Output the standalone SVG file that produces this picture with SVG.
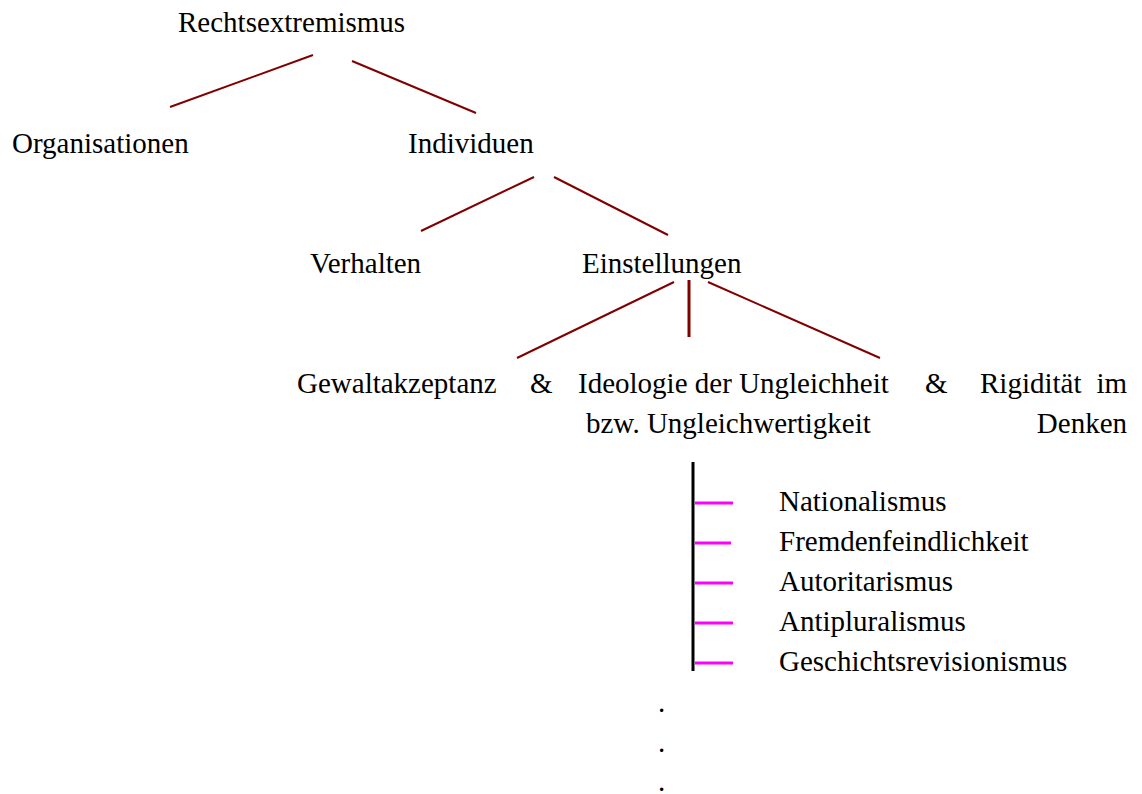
<svg xmlns="http://www.w3.org/2000/svg" width="1142" height="794" viewBox="0 0 1142 794">
<style>
text{font-family:"Liberation Serif","Times New Roman",serif;font-size:29px;fill:#000}
.c{stroke:#800000;stroke-width:2;fill:none}
.cv{stroke:#800000;stroke-width:3;fill:none}
.t{stroke:#ff00ff;stroke-width:3}
</style>
<rect width="1142" height="794" fill="#fff"/>
<g id="connectors">
<line class="c" x1="313" y1="55" x2="170" y2="107"/>
<line class="c" x1="352" y1="61" x2="476" y2="113"/>
<line class="c" x1="534" y1="177" x2="421" y2="231"/>
<line class="c" x1="554" y1="177" x2="668" y2="235"/>
<line class="c" x1="674" y1="282" x2="517" y2="358"/>
<line class="cv" x1="689" y1="280" x2="689" y2="337"/>
<line class="c" x1="708" y1="282" x2="880" y2="358"/>
<line stroke="#000" stroke-width="3" x1="693" y1="462" x2="693" y2="671"/>
<line class="t" x1="695" y1="503" x2="733" y2="503"/>
<line class="t" x1="695" y1="543" x2="731" y2="543"/>
<line class="t" x1="695" y1="583" x2="733" y2="583"/>
<line class="t" x1="695" y1="623" x2="733" y2="623"/>
<line class="t" x1="695" y1="663" x2="733" y2="663"/>
</g>
<g id="n-rechtsextremismus"><text x="178" y="32">Rechtsextremismus</text></g>
<g id="n-organisationen"><text x="12" y="153">Organisationen</text></g>
<g id="n-individuen"><text x="408" y="153">Individuen</text></g>
<g id="n-verhalten"><text x="310" y="273">Verhalten</text></g>
<g id="n-einstellungen"><text x="582" y="273">Einstellungen</text></g>
<g id="n-gewaltakzeptanz"><text x="297" y="393">Gewaltakzeptanz</text></g>
<g id="amp1"><text x="530" y="393">&amp;</text></g>
<g id="n-ideologie"><text x="578" y="393">Ideologie der Ungleichheit</text><text x="586" y="433">bzw. Ungleichwertigkeit</text></g>
<g id="amp2"><text x="925" y="393">&amp;</text></g>
<g id="n-rigiditaet"><text x="980" y="393">Rigidität</text><text x="1127" y="393" text-anchor="end">im</text><text x="1127" y="433" text-anchor="end">Denken</text></g>
<g id="n-nationalismus"><text x="779" y="511">Nationalismus</text></g>
<g id="n-fremdenfeindlichkeit"><text x="779" y="551">Fremdenfeindlichkeit</text></g>
<g id="n-autoritarismus"><text x="779" y="591">Autoritarismus</text></g>
<g id="n-antipluralismus"><text x="779" y="631">Antipluralismus</text></g>
<g id="n-geschichtsrevisionismus"><text x="779" y="671">Geschichtsrevisionismus</text></g>
<g id="dots"><text x="658" y="712">.</text><text x="658" y="752">.</text><text x="658" y="791">.</text></g>
</svg>
